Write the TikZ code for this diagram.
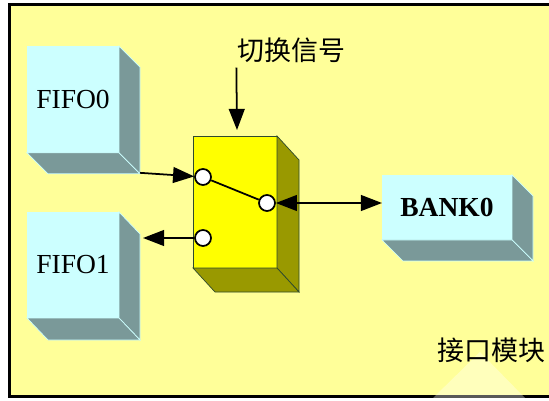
\documentclass[tikz,border=0pt]{standalone}
\usepackage{fontspec}
\setmainfont{Liberation Serif}
\newfontfamily\cjk{Noto Sans CJK SC}
\usetikzlibrary{arrows.meta}
\definecolor{bgyellow}{HTML}{FFFF99}
\definecolor{fifoface}{HTML}{CCFFFF}
\definecolor{fifoside}{HTML}{7A9999}
\definecolor{swface}{HTML}{FFFF00}
\definecolor{swside}{HTML}{999900}
\definecolor{swedge}{HTML}{2E4A2E}
% side and bottom faces of a box node: #1 node, #2 fill, #3 edge, (#4,#5) depth
\newcommand{\cubefaces}[5]{
    \filldraw[fill=#2, draw=#3, line width=0.6pt]
        (#1.north east) -- ([shift={(#4,#5)}]#1.north east)
        -- ([shift={(#4,#5)}]#1.south east) -- (#1.south east) -- cycle;
    \filldraw[fill=#2, draw=#3, line width=0.6pt]
        (#1.south west) -- (#1.south east)
        -- ([shift={(#4,#5)}]#1.south east) -- ([shift={(#4,#5)}]#1.south west) -- cycle;
}

\begin{document}
\begin{tikzpicture}[x=0.03cm, y=-0.03cm, font=\fontsize{23.5}{28}\selectfont]
    \tikzset{
        fifo/.style={rectangle, draw=fifoface, fill=fifoface, line width=0.6pt,
                     outer sep=0pt, minimum width=2.76cm, minimum height=3.2cm},
        switchbox/.style={rectangle, draw=swedge, fill=swface, line width=0.6pt,
                     outer sep=0pt, minimum width=2.52cm, minimum height=3.96cm},
        port/.style={circle, draw, line width=1.5pt, fill=white,
                     inner sep=0pt, minimum size=0.48cm},
        cjktext/.style={font=\cjk\fontsize{23}{28}\selectfont, inner sep=0pt},
        arrow/.style={line width=1.5pt, -{Triangle[length=18pt, width=13.5pt]}}
    }
    \clip (0,0) rectangle (549,401);
    \fill[bgyellow] (9,4) rectangle (560,396);
    \draw[line width=2.2pt] (9.5,4.5) rectangle (600,396.5);
    \fill[white, opacity=0.35] (433,398) -- (480,352) -- (525,398) -- cycle;

    \node[fifo] (f0) at (73,99.5) {FIFO0};
    \cubefaces{f0}{fifoside}{fifoface}{21}{21}
    \node[fifo, minimum height=3.18cm] (f1) at (73,265) {FIFO1};
    \cubefaces{f1}{fifoside}{fifoface}{21}{22}
    \node[switchbox] (sw) at (235,202) {};
    \cubefaces{sw}{swside}{swedge}{22}{24}
    \node[fifo, minimum width=3.9cm, minimum height=1.95cm, font=\fontsize{23.5}{28}\selectfont\bfseries]
        (bank0) at (447,207.5) {BANK0};
    \cubefaces{bank0}{fifoside}{fifoface}{21}{21}

    \node[port] (c1) at (203,177) {};
    \node[port] (c2) at (267,203) {};
    \node[port] (c3) at (203,238) {};
    \draw[line width=1.5pt] (c1) -- (c2);

    \node[cjktext] (sig) at (291.5,50) {切换信号};
    \node[cjktext] (iface) at (491.5,350) {接口模块};

    \coordinate (f0out) at ([shift={(21,20)}]f0.south east);
    \coordinate (f1in) at (143,238);
    \coordinate (sigtip) at (237,130);
    \draw[arrow] ([shift={(-1,5)}]sig.south west) -- (sigtip);
    \draw[arrow] (f0out) -- (c1);
    \draw[arrow] (c3) -- (f1in);
    \draw[arrow, {Triangle[length=18pt, width=13.5pt]}-{Triangle[length=18pt, width=13.5pt]}]
        (c2) -- (c2 -| bank0.west);
\end{tikzpicture}
\end{document}
